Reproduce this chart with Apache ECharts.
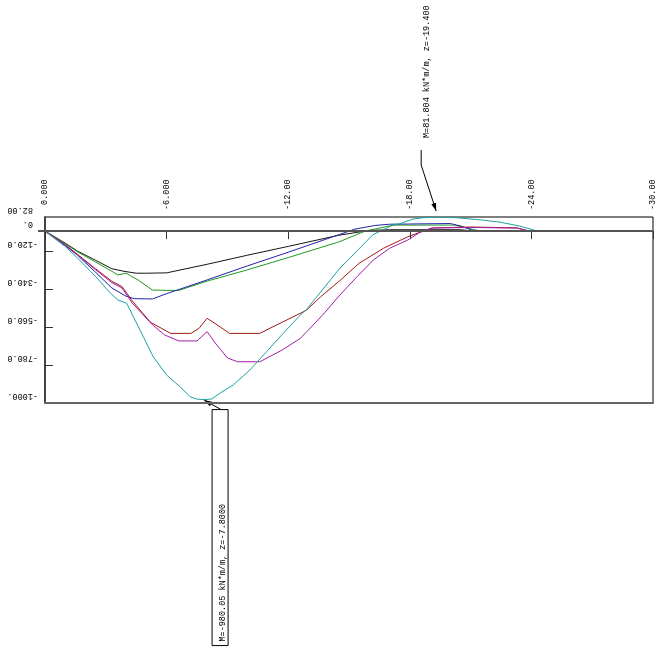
<!DOCTYPE html>
<html><head><meta charset="utf-8">
<script src="https://cdn.jsdelivr.net/npm/echarts@6/dist/echarts.min.js"></script>
<style>html,body{margin:0;padding:0;background:#fff}#c{width:660px;height:652px}</style>
</head><body><div id="c"></div>
<script>
// ---- tick labels ----
const xTickValues = [0, -6, -12, -18, -24, -30];
const xTickLabels = [' 0.000', '-6.000', '-12.00', '-18.00', '-24.00', '-30.00'];
const yTickValues = [82, 0, -120, -340, -560, -780, -1000];
const yTickLabels = [' 82.00', ' 0.', '-120.0', '-340.0', '-560.0', '-780.0', '-1000.'];

// ---- series (z in m, M in kN*m/m) ----
const blackZ = [0, -1, -1.6, -2.5, -3.3, -3.9, -4.5, -5.0, -6.0, -8, -10, -12, -14.5, -16, -17, -20.5, -21, -25];
const blackM = [0, -70, -116, -170, -219, -234, -245, -245, -243, -193, -140, -89, -24, 4, 8, 8, 2, 0];

const blueZ = [0, -1, -1.6, -2.5, -3.3, -4.0, -4.4, -5.3, -6.0, -8.0, -10.0, -12.0, -14.5, -15.3, -16.3, -17.0, -20.0, -20.5, -21.2, -25];
const blueM = [0, -85, -140, -240, -331, -379, -393, -395, -364, -284, -202, -123, -21, 12, 33, 40, 44, 30, 0, 0];

const greenZ = [0, -1, -1.6, -2.5, -3.3, -3.6, -4.0, -4.6, -5.3, -6.0, -6.6, -8.0, -10.0, -12.0, -14.5, -15.8, -17.2, -20.2, -21.5, -25];
const greenM = [0, -73, -120, -180, -234, -255, -245, -285, -343, -345, -345, -291, -225, -154, -63, 0, 35, 35, 0, 0];

const redZ = [0, -1, -1.6, -2.5, -3.3, -3.8, -4.3, -5.2, -6.2, -7.2, -7.6, -8.0, -8.5, -9.1, -10.6, -11.1, -12.6, -12.9, -13.6, -14.55, -15.5, -16.7, -17.9, -18.5, -19.1, -21.0, -23.3, -23.9, -25];
const redM = [0, -78, -135, -220, -292, -323, -405, -530, -595, -595, -566, -507, -546, -595, -595, -565, -478, -460, -382, -288, -187, -100, -33, -7, 18, 24, 18, 0, 0];

const purpleZ = [0, -1, -1.6, -2.5, -3.3, -3.8, -4.3, -5.3, -5.9, -6.6, -7.5, -8.0, -8.4, -9.0, -9.5, -10.6, -11.7, -12.6, -13.7, -14.55, -15.4, -16.2, -17.0, -17.9, -18.5, -19.1, -21.0, -23.3, -23.9, -25];
const purpleM = [0, -80, -138, -225, -300, -331, -418, -545, -604, -639, -639, -585, -651, -738, -760, -760, -692, -624, -488, -372, -265, -168, -100, -52, -7, 18, 21, 18, 0, 0];

const tealZ = [0, -1, -1.6, -2.5, -3.3, -3.6, -4.03, -4.36, -4.85, -5.34, -6.0, -6.66, -7.15, -7.48, -7.8, -8.22, -8.63, -9.29, -10.11, -10.93, -11.76, -12.58, -12.91, -14.55, -16.18, -17.17, -17.5, -18.16, -18.65, -19.4, -20.3, -21.5, -22.4, -23.4, -24.3, -25];
const tealM = [0, -90, -156, -265, -370, -401, -420, -498, -614, -731, -837, -905, -963, -977, -980.05, -977, -943, -895, -808, -702, -594, -490, -455, -216, -21, 35, 43, 70, 78, 81.804, 78, 65, 53, 30, 0, 0];

// ---- annotations ----
const maxPoint = [-19.4, 81.804];
const maxLabel = 'M=81.804 kN*m/m, z=-19.400';
const minPoint = [-7.8, -980.05];
const minLabel = 'M=-980.05 kN*m/m, z=-7.8000';

const FONT = 'Liberation Mono';
const FS = 8.5;

function pairs(zs, ms) { return zs.map((z, i) => [z, ms[i]]); }
function mk(name, zs, ms, color) {
  return { name, type: 'line', xAxisIndex: 0, yAxisIndex: 0, data: pairs(zs, ms), symbol: 'none', smooth: false,
    lineStyle: { color, width: 1 }, itemStyle: { color }, animation: false, silent: true };
}
function yFmt(v) { const i = yTickValues.indexOf(v); return i >= 0 ? ' \n' + yTickLabels[i] : ''; }

const chart = echarts.init(document.getElementById('c'), null, { renderer: 'canvas' });
const series = [
  mk('black', blackZ, blackM, '#151515'),
  mk('green', greenZ, greenM, '#1f9a1f'),
  mk('blue', blueZ, blueM, '#2424a8'),
  mk('red', redZ, redM, '#a01818'),
  mk('purple', purpleZ, purpleM, '#a020a8'),
  mk('teal', tealZ, tealM, '#20a0a0')
];
series[0].markLine = { silent: true, symbol: 'none', label: { show: false },
  lineStyle: { color: '#555', width: 2, type: 'solid' }, data: [{ yAxis: 0 }], animation: false };

const yLabelStyle = { show: true, rotate: 180, margin: 7, fontFamily: FONT, fontSize: FS, color: '#000',
  lineHeight: 14, showMinLabel: true, showMaxLabel: true, hideOverlap: false, formatter: yFmt };
// labels split over two overlapping axes (alternating) so that none is hidden
const yLabelsA = yTickValues.filter((v, i) => i % 2 === 1);
const yLabelsB = yTickValues.filter((v, i) => i % 2 === 0);

chart.setOption({
  animation: false,
  backgroundColor: '#fff',
  grid: { left: 45, top: 217, width: 608, height: 186, show: true, borderColor: '#000', borderWidth: 1, backgroundColor: 'transparent' },
  xAxis: [{
    type: 'value', position: 'top', min: -30, max: 0, interval: 6, inverse: true,
    axisLine: { show: false }, splitLine: { show: false },
    axisTick: { show: true, inside: true, length: 8, lineStyle: { color: '#333', width: 1 } },
    axisLabel: { show: true, rotate: 90, margin: 7, fontFamily: FONT, fontSize: FS, color: '#000',
      showMinLabel: true, showMaxLabel: true, hideOverlap: false,
      formatter: v => { const i = xTickValues.indexOf(v); return i >= 0 ? xTickLabels[i] : ''; } }
  }, {
    type: 'value', position: 'bottom', min: -30, max: 0, inverse: true,
    axisLine: { show: true, onZero: false, lineStyle: { color: '#666', width: 2 } },
    axisTick: { show: false }, axisLabel: { show: false }, splitLine: { show: false }
  }],
  yAxis: [{
    type: 'value', min: -1000, max: 82, position: 'left',
    axisLine: { show: true, lineStyle: { color: '#444', width: 2 } }, splitLine: { show: false },
    axisTick: { show: true, inside: true, length: 8, customValues: [-120, -340, -560, -780], lineStyle: { color: '#333', width: 1 } },
    axisLabel: Object.assign({}, yLabelStyle, { customValues: yLabelsA })
  }, {
    type: 'value', min: -1000, max: 82, position: 'left',
    axisLine: { show: false }, splitLine: { show: false },
    axisLabel: Object.assign({}, yLabelStyle, { customValues: yLabelsB }),
    axisTick: { show: true, inside: false, length: 7, customValues: [0], lineStyle: { color: '#555', width: 2 } }
  }],
  series
});

function arrowHead(tip, from, len, half) {
  const dx = tip[0] - from[0], dy = tip[1] - from[1];
  const d = Math.hypot(dx, dy), ux = dx / d, uy = dy / d;
  const bx = tip[0] - ux * len, by = tip[1] - uy * len;
  return [tip, [bx - uy * half, by + ux * half], [bx + uy * half, by - ux * half]];
}

const pM = chart.convertToPixel({ xAxisIndex: 0, yAxisIndex: 0 }, maxPoint);
const pm = chart.convertToPixel({ xAxisIndex: 0, yAxisIndex: 0 }, minPoint);
const tip1 = [pM[0] - 2, pM[1] - 6], elb1 = [pM[0] - 17, pM[1] - 52], top1 = [pM[0] - 17, pM[1] - 67];
const tip2 = [pm[0] + 1, pm[1] + 0.5], tail2 = [pm[0] + 18, pm[1] + 10];

chart.setOption({
  graphic: [
    { type: 'polyline', shape: { points: [top1, elb1, tip1] }, style: { stroke: '#000', lineWidth: 1, fill: null }, silent: true },
    { type: 'polygon', shape: { points: arrowHead(tip1, elb1, 8, 2.5) }, style: { fill: '#000' }, silent: true },
    { type: 'text', x: pM[0] - 11, y: pM[1] - 79, rotation: Math.PI / 2,
      style: { text: maxLabel, font: FS + 'px "' + FONT + '"', fill: '#000', textAlign: 'left', textVerticalAlign: 'middle' }, silent: true },
    { type: 'polyline', shape: { points: [tail2, tip2] }, style: { stroke: '#000', lineWidth: 1, fill: null }, silent: true },
    { type: 'polygon', shape: { points: arrowHead(tip2, tail2, 8, 2.5) }, style: { fill: '#000' }, silent: true },
    { type: 'rect', shape: { x: pm[0] + 9, y: pm[1] + 10, width: 16, height: 236 }, style: { stroke: '#000', lineWidth: 1, fill: '#fff' }, silent: true },
    { type: 'text', x: pm[0] + 20, y: pm[1] + 242, rotation: Math.PI / 2,
      style: { text: minLabel, font: FS + 'px "' + FONT + '"', fill: '#000', textAlign: 'left', textVerticalAlign: 'middle' }, silent: true }
  ]
});
</script></body></html>
